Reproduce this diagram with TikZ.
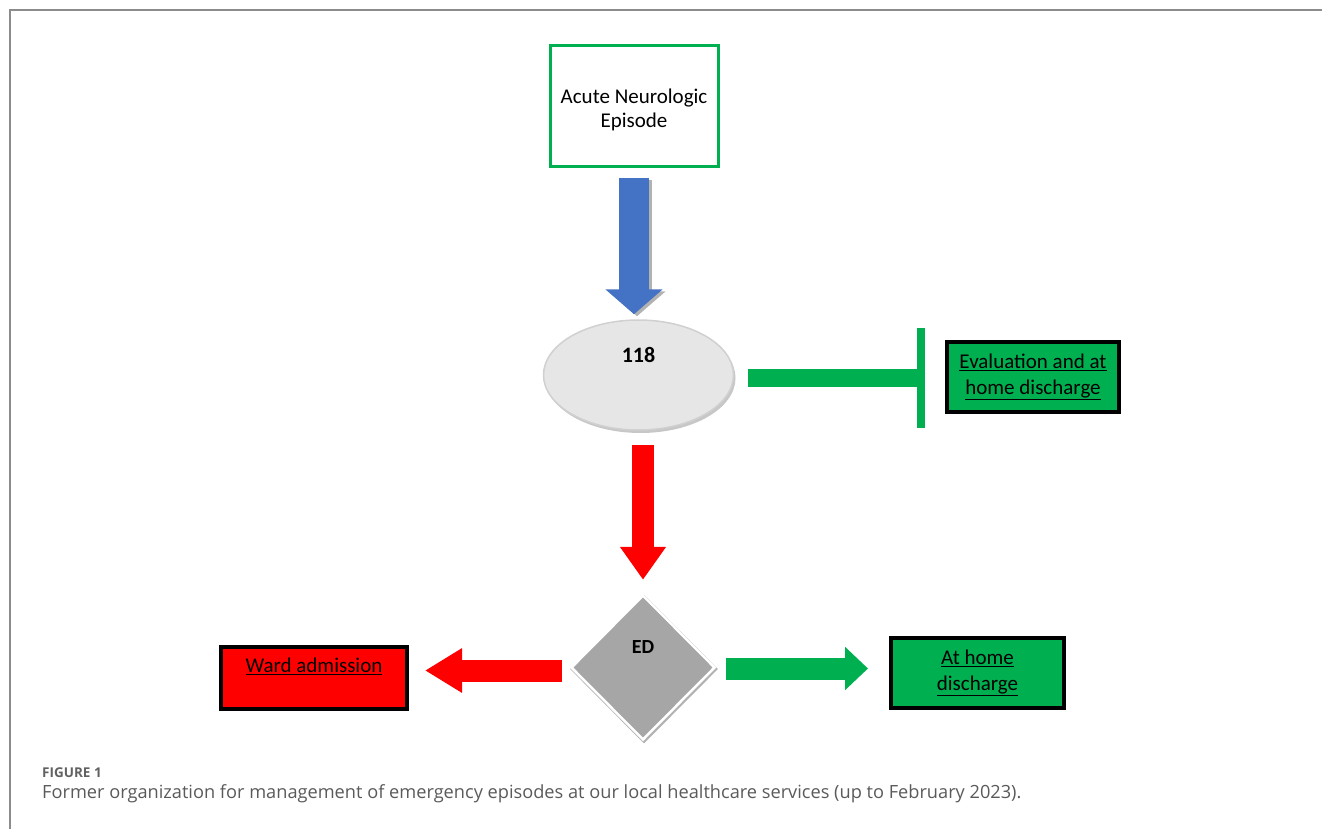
\documentclass[tikz,border=0pt]{standalone}
\usepackage{fontspec}
\setmainfont{Carlito}
\newfontfamily\capfont{Open Sans}
\usetikzlibrary{shapes.geometric,arrows.meta,calc}
\definecolor{bgreen}{HTML}{00B050}
\definecolor{bblue}{HTML}{4472C4}
\definecolor{bred}{HTML}{FF0000}
\definecolor{framegray}{HTML}{8C8C8C}
\definecolor{capgray}{HTML}{5A5A5A}
\definecolor{ellfill}{HTML}{E6E6E6}
\definecolor{ellline}{HTML}{D0D0D0}
\definecolor{edfill}{HTML}{A6A6A6}
\begin{document}
\begin{tikzpicture}[x=1pt,y=-1pt,
  dfont/.style={font=\fontsize{21}{26}\selectfont},
  outbox/.style={draw=black, line width=4pt, inner sep=0pt, align=center},
  blockarrow/.style={line width=#1, line cap=butt}
]
\useasboundingbox (0,0) rectangle (1322,829);
\draw[framegray, line width=2pt] (10,829) -- (10,10) -- (1322,10);

% nodes
\node[draw=bgreen, line width=3pt, minimum width=168pt, minimum height=121pt,
      label={[align=center, font=\fontsize{21}{24}\selectfont, yshift=-4pt]center:{Acute Neurologic\\Episode}}]
      (ane) at (634,106) {};
\fill[black!22] (640.5,378) ellipse (95pt and 55pt);
\node[ellipse, draw=ellline, line width=1.5pt, fill=ellfill, minimum width=190pt,
      minimum height=110pt, inner sep=0pt,
      label={[font=\fontsize{22}{24}\selectfont\bfseries, yshift=20pt]center:118}]
      (e118) at (638.5,375) {};
\node[outbox, fill=bgreen, minimum width=172pt, minimum height=70pt,
      label={[dfont, align=center, yshift=0pt]center:{\underline{Evaluation and at}\\\underline{home discharge}}}]
      (eval) at (1033,377) {};
\node[diamond, fill=black!30, inner sep=0pt, minimum width=148pt, minimum height=149pt]
      at (644,669) {};
\node[diamond, draw=white, line width=2.5pt, fill=edfill, inner sep=0pt,
      minimum width=144pt, minimum height=145pt,
      label={[font=\fontsize{20}{22}\selectfont\bfseries, yshift=20pt]center:ED}]
      (ed) at (643,667.5) {};
\node[outbox, fill=bred, minimum width=186pt, minimum height=62pt,
      label={[dfont, yshift=12pt]center:\underline{Ward admission}}]
      (ward) at (314,678) {};
\node[outbox, fill=bgreen, minimum width=173pt, minimum height=70pt,
      label={[dfont, align=center, yshift=0pt]center:{\underline{At home}\\\underline{discharge}}}]
      (home) at (977.5,673) {};

% connectors
\draw[blockarrow=30pt, black!30, shorten <=12pt, shorten >=3pt,
      -{Triangle[width=56pt,length=25pt]}]
      ([xshift=3pt]ane.south) -- ([xshift=3pt]ane.south |- e118.north);
\draw[blockarrow=30pt, bblue, shorten <=10pt, shorten >=5pt,
      -{Triangle[width=56pt,length=25pt]}]
      (ane.south) -- (ane.south |- e118.north);

\coordinate (tb) at (921,378);
\draw[blockarrow=18pt, bgreen, shorten <=14pt] (e118.east |- tb) -- (tb);
\draw[blockarrow=8pt, bgreen] ([yshift=50pt]tb) -- ([yshift=-50pt]tb);

\draw[blockarrow=22pt, bred, shorten <=14pt, shorten >=14pt,
      -{Triangle[width=44pt,length=33pt]}]
      (e118.south -| ed.north) -- (ed.north);

\draw[blockarrow=22pt, bred, shorten <=8pt, shorten >=16pt,
      -{Triangle[width=42pt,length=37pt]}]
      ([yshift=-3pt]ed.west) -- ([yshift=-3pt]ed.west -| ward.east);

\draw[blockarrow=22pt, bgreen, shorten <=10pt, shorten >=21pt,
      -{Triangle[width=42pt,length=23pt]}]
      ([yshift=-1pt]ed.east) -- ([yshift=-1pt]ed.east -| home.west);

% caption
\node[anchor=west, inner sep=0pt, text=black!62,
      font=\capfont\bfseries\fontsize{13.5}{15}\selectfont] (figno) at (42,773) {FIGURE 1};
\node[anchor=west, inner sep=0pt, text=capgray,
      font=\capfont\fontsize{18.2}{20}\selectfont] (cap) at (42,794)
      {Former organization for management of emergency episodes at our local healthcare services (up to February 2023).};
\end{tikzpicture}
\end{document}
